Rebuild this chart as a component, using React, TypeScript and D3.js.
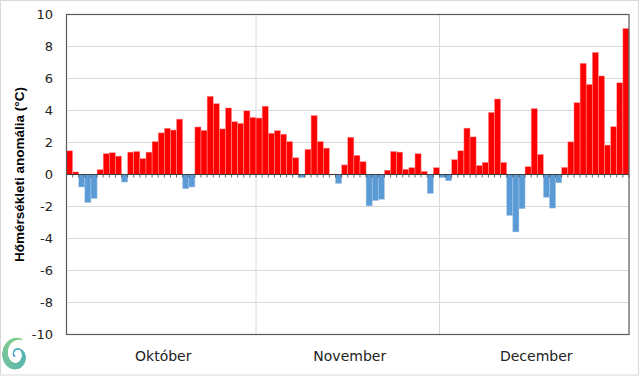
import React from "react";
import * as d3 from "d3";

const months = ["Október", "November", "December"];
const octValues = [1.48, 0.16, -0.78, -1.75, -1.5, 0.3, 1.3, 1.36, 1.15, -0.47, 1.4, 1.44, 1.0, 1.4, 2.06, 2.6, 2.89, 2.78, 3.46, -0.89, -0.78, 2.97, 2.76, 4.89, 4.43, 2.85, 4.16, 3.3, 3.2, 3.98, 3.57];
const novValues = [3.53, 4.27, 2.58, 2.74, 2.52, 2.06, 1.05, -0.2, 1.57, 3.69, 2.06, 1.65, 0.02, -0.56, 0.6, 2.33, 1.2, 0.8, -1.96, -1.63, -1.55, 0.27, 1.44, 1.4, 0.33, 0.43, 1.3, 0.2, -1.18, 0.43];
const decValues = [-0.19, -0.39, 0.93, 1.48, 2.9, 2.35, 0.56, 0.76, 3.88, 4.72, 0.76, -2.56, -3.59, -2.14, 0.49, 4.12, 1.26, -1.42, -2.1, -0.52, 0.45, 2.04, 4.49, 6.95, 5.63, 7.63, 6.16, 1.84, 2.99, 5.73, 9.13];
const yTicks = [-10, -8, -6, -4, -2, 0, 2, 4, 6, 8, 10];
const yTitle = "Hőmérsékleti anomália (°C)";

const W = 640;
const H = 376;
const L = 66.5, R = 629, T = 14.5, B = 334.5;

export default function App() {
  const values = [...octValues, ...novValues, ...decValues];
  const monthLens = [octValues.length, novValues.length, decValues.length];
  const x = d3.scaleBand<number>().domain(d3.range(values.length)).range([L, R]).padding(0);
  const y = d3.scaleLinear().domain([-10, 10]).range([B, T]);
  const bw = x.bandwidth();
  const starts = [0, monthLens[0], monthLens[0] + monthLens[1]];

  // logo spiral
  const spiralSegs: { d: string; c: string; w: number }[] = [];
  const color = d3.interpolateRgb("#86cf8a", "#3a9fd0");
  const N = 90;
  const cx = 16.5, cy = 355;
  const pt = (t: number) => {
    const th = -Math.PI / 2 + 0.4 - t * Math.PI * 2.8;
    const r = 14 * (1 - t * 0.85);
    return [cx + r * Math.cos(th) * 1.0, cy + r * Math.sin(th) * 1.2];
  };
  for (let i = 0; i < N; i++) {
    const a = pt(i / N), b = pt((i + 1) / N);
    const t = i / N;
    spiralSegs.push({ d: `M${a[0]},${a[1]}L${b[0]},${b[1]}`, c: color(t), w: 1.2 + 5 * Math.sin(Math.PI * Math.min(1, t * 1.5)) });
  }

  return (
    <svg width={W} height={H} style={{ position: "fixed", left: 0, top: 0, background: "#fff" }} fontFamily="DejaVu Sans, sans-serif">
      <rect x={0.5} y={0.5} width={638} height={374.5} fill="#fff" stroke="#d9d9d9" />
      {yTicks.map((t) => (
        <line key={"g" + t} x1={L} x2={R} y1={y(t)} y2={y(t)} stroke="#d9d9d9" strokeWidth={1} />
      ))}
      {starts.slice(1).map((s) => (
        <line key={"v" + s} x1={x(s)} x2={x(s)} y1={T} y2={B} stroke="#d9d9d9" strokeWidth={1} />
      ))}
      {values.map((v, i) => (
        <rect
          key={i}
          x={x(i)}
          width={bw}
          y={y(Math.max(0, v))}
          height={Math.abs(y(v) - y(0))}
          fill={v >= 0 ? "#ff0000" : "#5b9bd5"}
          stroke={v >= 0 ? "#ff9a9a" : "#a8c8ea"}
          strokeWidth={0.5}
        />
      ))}
      <line x1={L} x2={R} y1={y(0)} y2={y(0)} stroke="#404040" strokeWidth={1} />
      {d3.range(values.length + 1).map((i) => {
        const xx = i < values.length ? x(i)! : R;
        return <line key={"t" + i} x1={xx} x2={xx} y1={y(0)} y2={y(0) + 3} stroke="#404040" strokeWidth={0.8} />;
      })}
      <rect x={L} y={T} width={R - L} height={B - T} fill="none" stroke="#595959" strokeWidth={1.2} />
      {yTicks.map((t) => (
        <text key={"l" + t} x={53} y={y(t)} dy="0.36em" textAnchor="end" fontSize={13} fill="#222">
          {t}
        </text>
      ))}
      <text
        transform={`translate(24,${(T + B) / 2}) rotate(-90)`}
        textAnchor="middle"
        fontFamily="Liberation Sans, Arial, sans-serif"
        fontWeight="bold"
        fontSize={13.5}
        fill="#000"
      >
        {yTitle}
      </text>
      {months.map((m, k) => {
        const s = starts[k];
        const e = s + monthLens[k] - 1;
        const cxm = (x(s)! + x(e)! + bw) / 2 + 2;
        return (
          <text key={m} x={cxm} y={361} textAnchor="middle" fontSize={14} fill="#222">
            {m}
          </text>
        );
      })}
      {spiralSegs.map((s, i) => (
        <path key={"s" + i} d={s.d} stroke={s.c} strokeWidth={s.w} strokeLinecap="round" fill="none" />
      ))}
    </svg>
  );
}
